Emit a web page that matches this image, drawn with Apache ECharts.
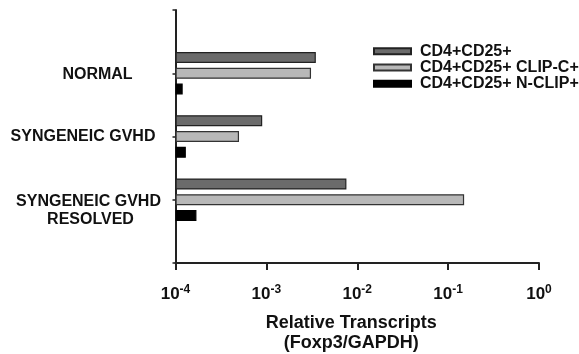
<!DOCTYPE html>
<html>
<head>
<meta charset="utf-8">
<script src="https://cdn.jsdelivr.net/npm/echarts@6/dist/echarts.min.js"></script>
<style>
  html, body { margin: 0; padding: 0; background: #fff; }
  #chart { width: 579px; height: 354px; }
</style>
</head>
<body>
<div id="chart"></div>
<script>
// groups, top to bottom
const categories = ["NORMAL", "SYNGENEIC GVHD", "SYNGENEIC GVHD\nRESOLVED"];

// Foxp3/GAPDH relative transcripts
const cd25Values = [0.0035, 0.0009, 0.0076];
const clipCValues = [0.0031, 0.0005, 0.15];
const nClipValues = [0.00012, 0.00013, 0.00017];

const seriesNames = ["CD4+CD25+", "CD4+CD25+ CLIP-C+", "CD4+CD25+ N-CLIP+"];

const fontFam = "'Liberation Sans', Arial, sans-serif";

// empty slots above/below so the groups sit on the ticks like the original
const axisCats = [" ", ...categories, "  "];
const pad = (arr) => ["-", ...arr, "-"];

const chart = echarts.init(document.getElementById("chart"));

const barCommon = {
  type: "bar",
  barWidth: 11,
  barGap: "43%",
  animation: false,
};

const lbl = { fontFamily: fontFam, fontSize: 16, fontWeight: "bold", color: "#111" };

chart.setOption({
  animation: false,
  textStyle: { fontFamily: fontFam },
  grid: { left: 175.5, right: 40, top: 10, bottom: 91, outerBoundsMode: "none", containLabel: false },
  legend: {
    orient: "vertical",
    left: 373,
    top: 43,
    padding: 0,
    itemWidth: 37,
    itemHeight: 6,
    itemGap: 0,
    icon: "rect",
    textStyle: {
      ...lbl,
      lineHeight: 16.3,
      padding: [0, 0, 0, 4],
    },
    data: seriesNames,
  },
  xAxis: {
    type: "log",
    logBase: 10,
    min: 0.0001,
    max: 1,
    startValue: 0.0001,
    name: "Relative Transcripts\n(Foxp3/GAPDH)",
    nameLocation: "middle",
    nameGap: 50,
    nameTextStyle: {
      ...lbl,
      fontSize: 18,
      lineHeight: 20,
      padding: [0, 12, 0, 0],
    },
    axisLine: { show: true, lineStyle: { color: "#222", width: 2 } },
    axisTick: { show: true, length: 7, lineStyle: { color: "#222", width: 2 } },
    splitLine: { show: false },
    minorTick: { show: false },
    axisLabel: {
      margin: 21,
      formatter: (v) => {
        const e = Math.round(Math.log10(v));
        return "{b|10}{s|" + e + "}";
      },
      rich: {
        b: { ...lbl, fontSize: 17, lineHeight: 20 },
        s: { ...lbl, fontSize: 12, lineHeight: 12, verticalAlign: "top" },
      },
    },
  },
  yAxis: {
    type: "category",
    inverse: true,
    boundaryGap: false,
    data: axisCats,
    axisLine: { show: true, lineStyle: { color: "#222", width: 2 } },
    axisTick: { show: true, length: 3, lineStyle: { color: "#222", width: 1.5 } },
    axisLabel: {
      interval: 0,
      align: "center",
      margin: 87,
      ...lbl,
      formatter: (v) => {
        if (v === categories[0]) return "{n|" + v + "}";
        if (v === categories[1]) return "{g|" + v + "}";
        if (v === categories[2]) {
          const parts = v.split("\n");
          return "{r1|" + parts[0] + "}\n{r2|" + parts[1] + "}";
        }
        return "";
      },
      rich: {
        n: { ...lbl, padding: [2, 0, 0, 18] },
        g: { ...lbl, padding: [0, 11, 0, 0] },
        r1: { ...lbl, lineHeight: 40, verticalAlign: "bottom" },
        r2: { ...lbl, lineHeight: 20, padding: [0, 0, 0, 4] },
      },
    },
  },
  series: [
    {
      ...barCommon,
      name: seriesNames[0],
      data: pad(cd25Values),
      itemStyle: { color: "#6b6b6b", borderColor: "#222", borderWidth: 1.2 },
    },
    {
      ...barCommon,
      name: seriesNames[1],
      data: pad(clipCValues),
      itemStyle: { color: "#b8b8b8", borderColor: "#333", borderWidth: 1.2 },
    },
    {
      ...barCommon,
      name: seriesNames[2],
      data: pad(nClipValues),
      itemStyle: { color: "#000", borderColor: "#000", borderWidth: 1.2 },
    },
  ],
});
</script>
</body>
</html>
